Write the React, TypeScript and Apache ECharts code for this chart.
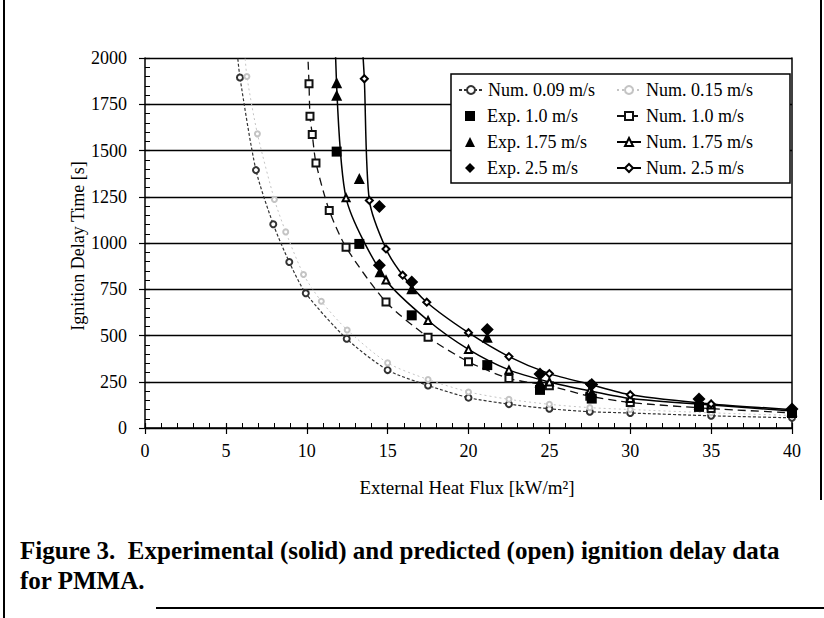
import React, { useEffect, useRef } from "react";
import * as echarts from "echarts";

// ---- data ----
const xTickValues = [0, 5, 10, 15, 20, 25, 30, 35, 40];
const yTickValues = [0, 250, 500, 750, 1000, 1250, 1500, 1750, 2000];

const num009X = [5.68, 5.87, 6.86, 7.93, 8.92, 9.94, 12.47, 15, 17.5, 20, 22.5, 25, 27.5, 30, 35, 40];
const num009Y = [2050, 1895, 1394, 1101, 897, 728, 482, 313, 230, 164, 129, 104, 88, 81, 66, 55];

const num015X = [6.15, 6.3, 6.95, 8.0, 8.7, 9.8, 10.9, 12.5, 15, 17.5, 20, 22.5, 25, 27.5, 30, 35, 40];
const num015Y = [2050, 1900, 1590, 1235, 1060, 830, 685, 530, 352, 262, 195, 155, 128, 110, 100, 82, 68];

const num10X = [10.05, 10.14, 10.2, 10.34, 10.57, 11.39, 12.43, 14.9, 17.5, 20, 22.5, 25, 27.5, 30, 35, 40];
const num10Y = [2050, 1861, 1685, 1587, 1433, 1176, 977, 681, 491, 358, 268, 228, 172, 138, 105, 82];

const num175X = [11.77, 12.43, 14.9, 17.5, 20, 22.5, 25, 27.5, 30, 35, 40];
const num175Y = [2050, 1244, 800, 581, 425, 314, 249, 201, 160, 124, 92];

const num25X = [13.45, 13.56, 13.87, 14.9, 15.93, 17.42, 20, 22.5, 25, 27.5, 30, 35, 40];
const num25Y = [2050, 1888, 1230, 968, 826, 680, 515, 386, 294, 236, 180, 130, 100];

const exp10X = [11.85, 13.25, 16.49, 21.16, 24.42, 27.62, 34.25, 40];
const exp10Y = [1494, 995, 609, 340, 206, 159, 114, 81];

const exp175X = [11.85, 11.85, 13.25, 14.53, 16.49, 21.16, 24.42, 27.62, 34.25, 40];
const exp175Y = [1866, 1799, 1348, 845, 753, 490, 249, 192, 130, 92];

const exp25X = [14.49, 14.49, 16.49, 21.16, 24.42, 27.62, 34.25, 40];
const exp25Y = [1197, 880, 789, 533, 292, 235, 157, 103];

const legendCol1Line = ["Num. 0.09 m/s"];
const legendCol1Exp = ["Exp. 1.0 m/s", "Exp. 1.75 m/s", "Exp. 2.5 m/s"];
const legendCol2 = ["Num. 0.15 m/s", "Num. 1.0 m/s", "Num. 1.75 m/s", "Num. 2.5 m/s"];

const xTitle = "External Heat Flux [kW/m²]";
const yTitle = "Ignition Delay Time [s]";
const caption1 = "Figure 3.  Experimental (solid) and predicted (open) ignition delay data";
const caption2 = "for PMMA.";

const FONT = '"Liberation Serif", "Times New Roman", serif';

const pair = (xs: number[], ys: number[]) => xs.map((x, i) => [x, ys[i]]);

export default function App() {
  const ref = useRef<HTMLDivElement>(null);
  useEffect(() => {
    if (!ref.current) return;
    const chart = echarts.init(ref.current, undefined, { renderer: "svg" });

    const lineSeries = (
      name: string,
      xs: number[],
      ys: number[],
      symbol: string,
      size: number,
      color: string,
      lineType: any,
      width: number
    ) => ({
      name,
      type: "line",
      data: pair(xs, ys),
      smooth: 0.25,
      symbol,
      symbolSize: size,
      showAllSymbol: true,
      clip: true,
      z: 3,
      lineStyle: { color, width, type: lineType },
      itemStyle: { color, borderWidth: 1 },
    });

    const scatterSeries = (name: string, xs: number[], ys: number[], symbol: string, size: number) => ({
      name,
      type: "scatter",
      data: pair(xs, ys),
      symbol,
      symbolSize: size,
      z: 5,
      itemStyle: { color: "#000", opacity: 1 },
    });

    const legendText = { fontFamily: FONT, fontSize: 18, color: "#000", lineHeight: 18 };

    chart.setOption({
      animation: false,
      backgroundColor: "#fff",
      grid: { left: 145, right: 32, top: 58, bottom: 190, containLabel: false },
      xAxis: [
        {
          type: "value",
          min: 0,
          max: 40,
          interval: 5,
          position: "bottom",
          axisLine: { show: true, onZero: false, lineStyle: { color: "#000", width: 1.5 } },
          axisTick: { show: true, inside: true, length: 5, lineStyle: { color: "#000", width: 1.2 } },
          minorTick: { show: true, splitNumber: 5, length: 5, lineStyle: { color: "#000", width: 1 } },
          axisLabel: {
            fontFamily: FONT,
            fontSize: 18,
            color: "#000",
            margin: 14,
            formatter: (v: number) => (xTickValues.includes(v) ? String(v) : ""),
          },
          splitLine: { show: false },
        },
        {
          type: "value",
          min: 0,
          max: 40,
          interval: 5,
          position: "bottom",
          axisLine: { show: false, onZero: false },
          axisTick: { show: true, inside: false, length: 6, lineStyle: { color: "#000", width: 1.2 } },
          axisLabel: { show: false },
          splitLine: { show: false },
        },
      ],
      yAxis: [
        {
          type: "value",
          min: 0,
          max: 2000,
          interval: 250,
          position: "left",
          axisLine: { show: true, onZero: false, lineStyle: { color: "#000", width: 1.5 } },
          axisTick: { show: true, inside: true, length: 5, lineStyle: { color: "#000", width: 1.2 } },
          minorTick: { show: true, splitNumber: 5, length: 5, lineStyle: { color: "#000", width: 1 } },
          axisLabel: {
            fontFamily: FONT,
            fontSize: 18,
            color: "#000",
            margin: 18,
            formatter: (v: number) => (yTickValues.includes(v) ? String(v) : ""),
          },
          splitLine: { show: true, lineStyle: { color: "#000", width: 1.3 } },
        },
        {
          type: "value",
          min: 0,
          max: 2000,
          interval: 250,
          position: "left",
          axisLine: { show: false, onZero: false },
          axisTick: { show: true, inside: false, length: 6, lineStyle: { color: "#000", width: 1.2 } },
          axisLabel: { show: false },
          splitLine: { show: false },
        },
        {
          type: "value",
          min: 0,
          max: 2000,
          interval: 250,
          position: "right",
          axisLine: { show: true, onZero: false, lineStyle: { color: "#000", width: 1.5 } },
          axisTick: { show: false },
          axisLabel: { show: false },
          splitLine: { show: false },
        },
      ],
      legend: [
        {
          orient: "vertical",
          left: 458,
          top: 81,
          itemWidth: 24,
          itemHeight: 10,
          itemGap: 8,
          padding: 0,
          data: legendCol1Line,
          textStyle: legendText,
          selectedMode: false,
        },
        {
          orient: "vertical",
          left: 465,
          top: 107,
          itemWidth: 10,
          itemHeight: 10,
          itemGap: 8,
          padding: 0,
          data: legendCol1Exp,
          textStyle: { ...legendText, padding: [0, 0, 0, 7] },
          selectedMode: false,
        },
        {
          orient: "vertical",
          left: 616,
          top: 81,
          itemWidth: 24,
          itemHeight: 10,
          itemGap: 8,
          padding: 0,
          data: legendCol2,
          textStyle: legendText,
          selectedMode: false,
        },
      ],
      series: [
        lineSeries("Num. 0.09 m/s", num009X, num009Y, "emptyCircle", 6, "#333", [3, 2], 1.2),
        lineSeries("Num. 0.15 m/s", num015X, num015Y, "emptyCircle", 5, "#c4c4c4", [2, 3], 1),
        lineSeries("Num. 1.0 m/s", num10X, num10Y, "emptyRect", 7, "#111", [8, 5], 1.3),
        lineSeries("Num. 1.75 m/s", num175X, num175Y, "emptyTriangle", 7, "#000", "solid", 1.5),
        lineSeries("Num. 2.5 m/s", num25X, num25Y, "emptyDiamond", 7, "#000", "solid", 1.5),
        scatterSeries("Exp. 1.0 m/s", exp10X, exp10Y, "rect", 10),
        scatterSeries("Exp. 1.75 m/s", exp175X, exp175Y, "triangle", 11),
        scatterSeries("Exp. 2.5 m/s", exp25X, exp25Y, "diamond", 13),
      ],
      graphic: [
        {
          type: "rect",
          shape: { x: 451, y: 74, width: 339, height: 109 },
          style: { fill: "#fff", stroke: "#000", lineWidth: 1.5 },
          z: 1,
        },
        {
          type: "text",
          x: 78,
          y: 246,
          rotation: Math.PI / 2,
          style: { text: yTitle, font: `18px ${FONT}`, fill: "#000", align: "center", verticalAlign: "middle" },
        },
        {
          type: "text",
          x: 467,
          y: 487,
          style: { text: xTitle, font: `19px ${FONT}`, fill: "#000", align: "center", verticalAlign: "middle" },
        },
        {
          type: "text",
          x: 20,
          y: 550,
          style: { text: caption1, font: `bold 25px ${FONT}`, fill: "#000", align: "left", verticalAlign: "middle" },
        },
        {
          type: "text",
          x: 20,
          y: 580,
          style: { text: caption2, font: `bold 25px ${FONT}`, fill: "#000", align: "left", verticalAlign: "middle" },
        },
        { type: "line", shape: { x1: 4, y1: 0, x2: 4, y2: 618 }, style: { stroke: "#000", lineWidth: 2 } },
        { type: "line", shape: { x1: 821, y1: 0, x2: 821, y2: 500 }, style: { stroke: "#000", lineWidth: 2 } },
        { type: "line", shape: { x1: 156, y1: 608, x2: 824, y2: 608 }, style: { stroke: "#000", lineWidth: 2 } },
      ],
    });
    return () => chart.dispose();
  }, []);

  return (
    <div
      ref={ref}
      style={{ position: "fixed", left: 0, top: 0, width: 824, height: 618, background: "#fff" }}
    />
  );
}
